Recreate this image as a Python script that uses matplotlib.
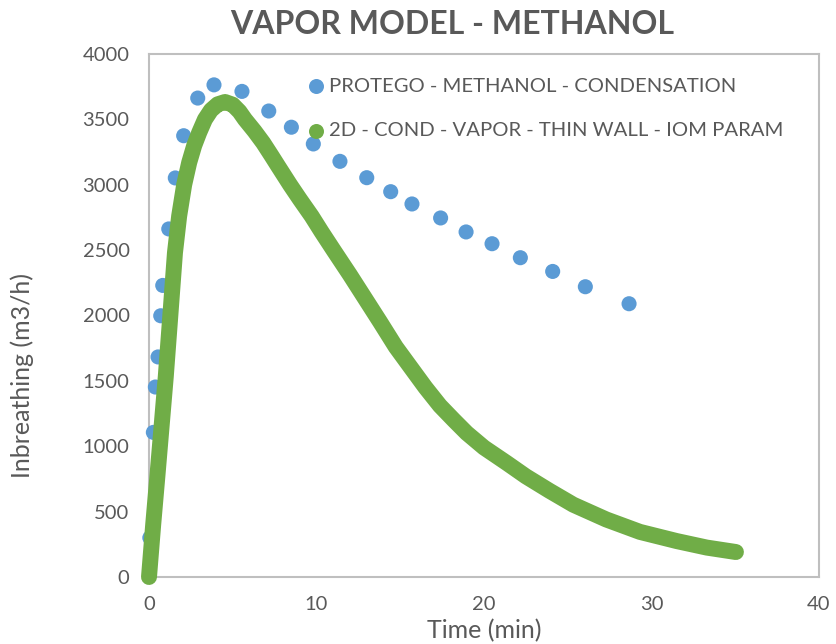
import matplotlib
matplotlib.use("Agg")
import matplotlib.pyplot as plt

plt.rcParams['font.family'] = ['Lato', 'DejaVu Sans']

# PROTEGO reference data (time in min, inbreathing in m3/h)
protego_t = [0.05, 0.26, 0.38, 0.54, 0.70, 0.82, 1.18, 1.57, 2.07, 2.91, 3.88,
             5.55, 7.15, 8.50, 9.81, 11.40, 13.00, 14.43, 15.70, 17.41, 18.93,
             20.48, 22.17, 24.10, 26.05, 28.66]
protego_v = [300, 1106, 1453, 1683, 1998, 2230, 2662, 3052, 3375, 3663, 3764,
             3714, 3564, 3440, 3312, 3179, 3054, 2947, 2853, 2746, 2639,
             2549, 2442, 2337, 2220, 2090]

# 2D condensation model result
model_t = [0.0, 0.25, 0.50, 0.75, 1.00, 1.25, 1.55, 1.80, 2.10, 2.40,
           2.70, 3.00, 3.34, 3.70, 4.10, 4.54, 5.00, 5.40, 5.73, 6.30, 6.82,
           7.30, 7.72, 8.42, 9.00, 9.71, 10.30, 11.00, 12.00, 12.80, 13.80,
           14.73, 15.70, 16.50, 17.37, 18.20, 18.97, 20.00, 21.36, 22.50,
           23.90, 25.33, 27.30, 29.31, 31.50, 33.30, 35.04]
model_v = [0, 400, 770, 1150, 1530, 1960, 2480, 2760, 3000, 3170,
           3300, 3400, 3500, 3570, 3615, 3633, 3612, 3560, 3500, 3410, 3320,
           3225, 3140, 3000, 2890, 2760, 2640, 2503, 2310, 2150, 1950,
           1760, 1590, 1450, 1310, 1200, 1101, 990, 872, 770,
           660, 553, 440, 345, 275, 225, 191]

series_names = ["PROTEGO - METHANOL - CONDENSATION",
                "2D - COND - VAPOR - THIN WALL - IOM PARAM"]

blue = "#5B9BD5"
green = "#70AD47"
text_grey = "#595959"
axis_grey = "#BFBFBF"

W, H = 836, 644
fig = plt.figure(figsize=(W / 100, H / 100), dpi=100)
ax = fig.add_axes([149 / W, 1 - 577 / H, 670 / W, 523 / H])

ax.scatter(protego_t, protego_v, s=118, color=blue, edgecolors='none', zorder=2,
           clip_on=False)
ax.plot(model_t, model_v, color=green, lw=11.5, solid_capstyle='round',
        solid_joinstyle='round', zorder=3, clip_on=False)

ax.set_xlim(0, 40)
ax.set_ylim(0, 4000)
ax.set_xticks([0, 10, 20, 30, 40])
ax.set_yticks(range(0, 4001, 500))
ax.tick_params(length=0, labelsize=14.5, labelcolor=text_grey)
ax.tick_params(axis='x', pad=14)
ax.tick_params(axis='y', pad=14)
for s in ax.spines.values():
    s.set_color(axis_grey)
    s.set_linewidth(1.5)
    s.set_zorder(1)

ax.set_xlabel("Time (min)", fontsize=18, color=text_grey, va='center', ha='center')
ax.xaxis.set_label_coords((484 - 149) / 670, (577 - 631) / 523)
ax.set_ylabel("Inbreathing (m3/h)", fontsize=18, color=text_grey, va='center', ha='center')
ax.yaxis.set_label_coords((22 - 149) / 670, (577 - 375) / 523)

fig.text(452 / W, 1 - 25 / H, "VAPOR MODEL - METHANOL", ha='center', va='center',
         fontsize=23, fontweight='bold', color=text_grey)

# legend entries inside the plot area
leg_x = (316 - 149) / 670
leg_tx = (329 - 149) / 670
for name, col, py in zip(series_names, [blue, green], [86, 131]):
    yy = (577 - py) / 523
    ax.plot([leg_x], [yy], 'o', ms=10.8, color=col, mec='none',
            transform=ax.transAxes, clip_on=False, zorder=5)
    ax.text(leg_tx, yy, name, transform=ax.transAxes, ha='left', va='center',
            fontsize=14.6, color=text_grey)

fig.savefig("out.png", dpi=100)
